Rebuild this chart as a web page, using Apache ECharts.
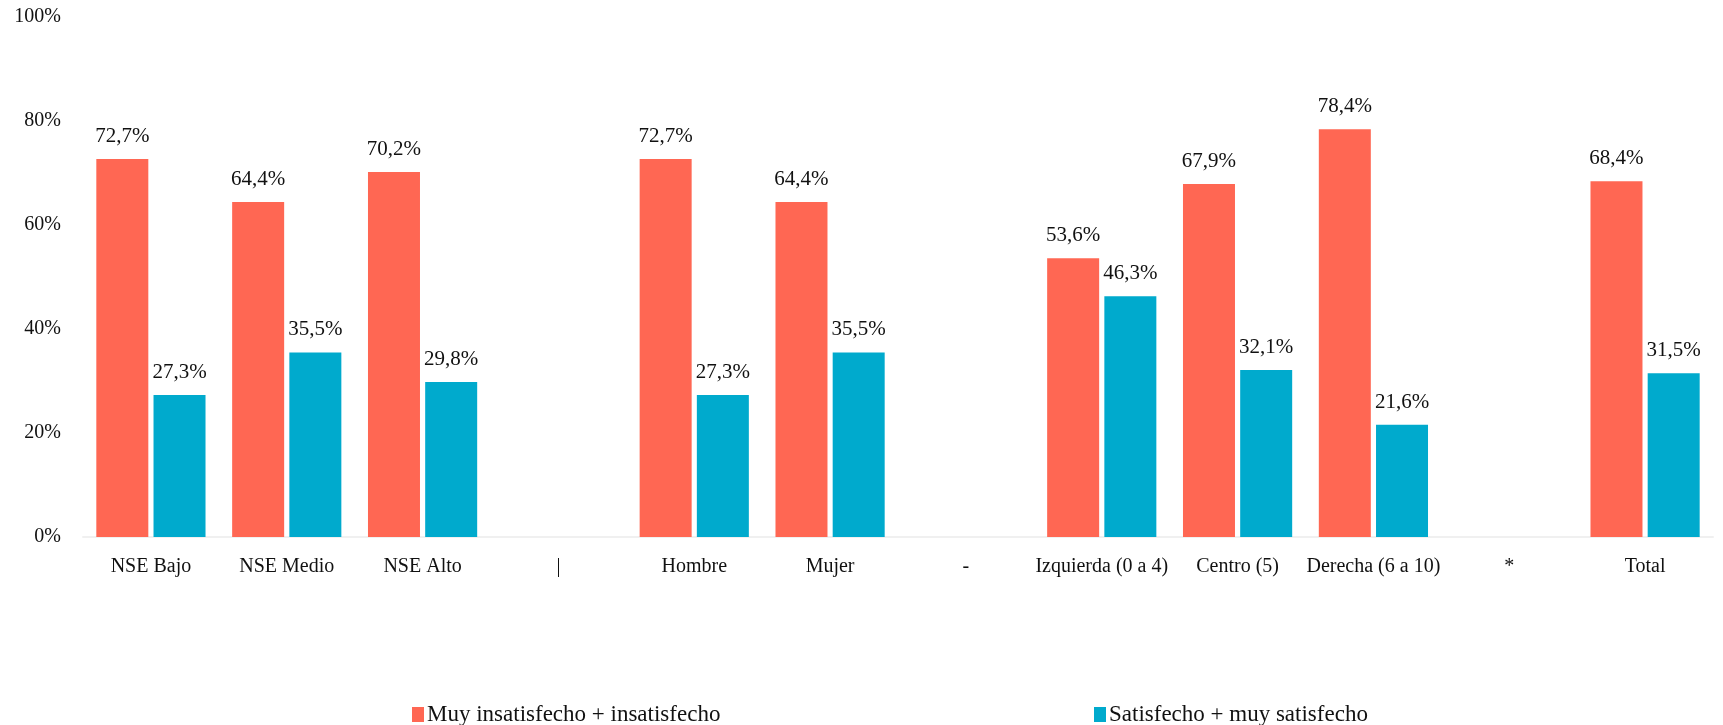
<!DOCTYPE html>
<html>
<head>
<meta charset="utf-8">
<script src="https://cdn.jsdelivr.net/npm/echarts@6/dist/echarts.min.js"></script>
<style>
html,body{margin:0;padding:0;background:#fff;}
#chart{width:1723px;height:725px;}
</style>
</head>
<body>
<div id="chart"></div>
<script>
const categories = ['NSE Bajo','NSE Medio','NSE Alto','|','Hombre','Mujer','-','Izquierda (0 a 4)','Centro (5)','Derecha (6 a 10)','*','Total'];
const insatisfecho = [72.7, 64.4, 70.2, null, 72.7, 64.4, null, 53.6, 67.9, 78.4, null, 68.4];
const satisfecho = [27.3, 35.5, 29.8, null, 27.3, 35.5, null, 46.3, 32.1, 21.6, null, 31.5];
const seriesNames = ['Muy insatisfecho + insatisfecho', 'Satisfecho + muy satisfecho'];
const yTicks = [0, 20, 40, 60, 80, 100];

const FONT = 'Liberation Serif';
const fmt = v => v.toFixed(1).replace('.', ',') + '%';

const chart = echarts.init(document.getElementById('chart'));
const labelCfg = {
  show: true, position: 'top', distance: 12,
  fontFamily: FONT, fontSize: 21, color: '#111',
  formatter: p => fmt(p.value)
};
chart.setOption({
  animation: false,
  textStyle: {fontFamily: FONT},
  grid: {left: 83, right: 10, top: 17, bottom: 188},
  legend: [
    {data: [seriesNames[0]], left: 407, top: 698, icon: 'rect', itemWidth: 12, itemHeight: 15, itemGap: 4,
     textStyle: {fontFamily: FONT, fontSize: 23, color: '#111', padding: [0,0,0,-2]}},
    {data: [seriesNames[1]], left: 1089, top: 698, icon: 'rect', itemWidth: 12, itemHeight: 15, itemGap: 4,
     textStyle: {fontFamily: FONT, fontSize: 23, color: '#111', padding: [0,0,0,-2]}}
  ],
  xAxis: {
    type: 'category', data: categories,
    axisLine: {lineStyle: {color: '#F0F0F0', width: 2}},
    axisTick: {show: false},
    axisLabel: {fontFamily: FONT, fontSize: 20, color: '#111', margin: 20, interval: 0}
  },
  yAxis: {
    type: 'value', min: 0, max: 100, interval: 20,
    splitLine: {show: false},
    axisLine: {show: false}, axisTick: {show: false},
    axisLabel: {fontFamily: FONT, fontSize: 20, color: '#111', margin: 22,
      formatter: v => yTicks.includes(v) ? v + '%' : ''}
  },
  series: [
    {name: seriesNames[0], type: 'bar', data: insatisfecho, barWidth: 52, barGap: '10%',
     itemStyle: {color: '#FF6753'}, label: labelCfg},
    {name: seriesNames[1], type: 'bar', data: satisfecho, barWidth: 52, barGap: '10%',
     itemStyle: {color: '#00AACD'}, label: labelCfg}
  ]
});
</script>
</body>
</html>
